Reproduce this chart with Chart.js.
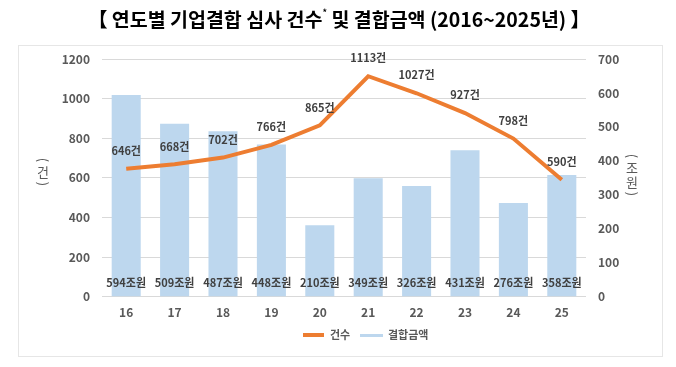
<!DOCTYPE html>
<html><head><meta charset="utf-8">
<script src="https://cdn.jsdelivr.net/npm/chart.js@4"></script>
<style>html,body{margin:0;padding:0;background:#fff}#wrap{position:relative;width:676px;height:367px}</style>
</head><body><div id="wrap"><canvas id="c" width="676" height="367"></canvas></div>
<script>
const categories = ['16','17','18','19','20','21','22','23','24','25'];
const countValues = [646, 668, 702, 766, 865, 1113, 1027, 927, 798, 590];
const amountValues = [594, 509, 487, 448, 210, 349, 326, 431, 276, 358];
const leftTicks = [0, 200, 400, 600, 800, 1000, 1200];
const rightTicks = [0, 100, 200, 300, 400, 500, 600, 700];
const seriesNames = ['건수', '결합금액'];
const titleText = '【 연도별 기업결합 심사 건수';
const titleText2 = ' 및 결합금액 (2016~2025년) 】';

const FONT = "'Noto Sans CJK KR', 'Noto Sans', sans-serif";
const GRAY = '#595959';
const DARK = '#404040';
const ORANGE = '#ED7D31';
const BLUE = '#BDD7EE';

const extras = {
  id: 'extras',
  beforeDraw(chart) {
    const ctx = chart.ctx;
    ctx.save();
    ctx.fillStyle = '#fff';
    ctx.fillRect(0, 0, chart.width, chart.height);
    ctx.strokeStyle = '#E6E6E6';
    ctx.lineWidth = 1;
    ctx.strokeRect(18.5, 45.5, 644, 311);
    ctx.restore();
  },
  afterDraw(chart) {
    const ctx = chart.ctx;
    ctx.save();
    // title
    ctx.fillStyle = '#000';
    ctx.textBaseline = 'middle';
    ctx.font = 'bold 19.5px ' + FONT;
    const w1 = ctx.measureText(titleText).width;
    const w2 = ctx.measureText(titleText2).width;
    ctx.font = 'bold 9px ' + FONT;
    const ws = ctx.measureText('*').width;
    const total = w1 + ws + w2;
    let x = 339 - total / 2;
    ctx.textAlign = 'left';
    ctx.font = 'bold 19.5px ' + FONT;
    ctx.fillText(titleText, x, 20);
    ctx.font = 'bold 9px ' + FONT;
    ctx.fillText('*', x + w1, 13);
    ctx.font = 'bold 19.5px ' + FONT;
    ctx.fillText(titleText2, x + w1 + ws, 20);

    // axis titles (stacked vertical)
    ctx.fillStyle = GRAY;
    ctx.font = '13px ' + FONT;
    ctx.textAlign = 'center';
    const stack = (cx, cy0, chars) => {
      let y = cy0;
      chars.forEach((ch, k) => {
        const paren = (ch === '(' || ch === ')');
        if (paren) {
          ctx.save();
          ctx.translate(cx, y);
          ctx.rotate(Math.PI / 2);
          ctx.fillText(ch, 0, 0);
          ctx.restore();
        } else {
          ctx.fillText(ch, cx, y);
        }
        const next = chars[k + 1];
        if (next !== undefined) {
          const np = (next === '(' || next === ')');
          y += (paren || np) ? 12 : 14;
        }
      });
    };
    stack(43, 160, ['(', '건', ')']);
    stack(632, 156, ['(', '조', '원', ')']);

    // data labels
    ctx.font = 'bold 11px ' + FONT;
    ctx.fillStyle = DARK;
    ctx.textBaseline = 'middle';
    const barMeta = chart.getDatasetMeta(1);
    barMeta.data.forEach((el, i) => {
      ctx.fillText(amountValues[i] + '조원', el.x, chart.scales.y.bottom - 14);
    });
    const lineMeta = chart.getDatasetMeta(0);
    lineMeta.data.forEach((el, i) => {
      ctx.fillText(countValues[i] + '건', el.x, el.y - 18);
    });

    // legend
    ctx.textAlign = 'left';
    ctx.font = 'bold 11px ' + FONT;
    ctx.fillStyle = ORANGE;
    ctx.fillRect(303, 333, 21, 4);
    ctx.fillStyle = GRAY;
    ctx.fillText(seriesNames[0], 330, 335);
    ctx.fillStyle = BLUE;
    ctx.fillRect(360, 334, 23, 3);
    ctx.fillStyle = GRAY;
    ctx.fillText(seriesNames[1], 388, 335);
    ctx.restore();
  }
};

new Chart(document.getElementById('c'), {
  data: {
    labels: categories,
    datasets: [
      { type: 'line', label: seriesNames[0], data: countValues, yAxisID: 'y', borderColor: ORANGE, backgroundColor: ORANGE, borderWidth: 4, pointRadius: 0, tension: 0, order: 0 },
      { type: 'bar', label: seriesNames[1], data: amountValues, yAxisID: 'y1', backgroundColor: BLUE, borderWidth: 0, barPercentage: 0.6, categoryPercentage: 1, order: 1 }
    ]
  },
  options: {
    responsive: false,
    animation: false,
    devicePixelRatio: 1,
    layout: { padding: { left: 18, right: 14, top: 59, bottom: 46 } },
    plugins: {
      title: { display: false },
      tooltip: { enabled: false },
      legend: { display: false }
    },
    scales: {
      x: {
        grid: { display: false },
        border: { display: false },
        ticks: { font: { family: FONT, size: 12, weight: 'bold' }, color: GRAY, padding: 1 }
      },
      y: {
        position: 'left',
        min: 0, max: 1200,
        afterBuildTicks(s) { s.ticks = leftTicks.map(v => ({ value: v })); },
        afterFit(s) { s.width = 84; },
        grid: { color: '#D9D9D9', drawTicks: false },
        border: { display: false },
        ticks: { font: { family: FONT, size: 12, weight: 'bold' }, color: GRAY, padding: 12, callback: v => String(v) }
      },
      y1: {
        position: 'right',
        min: 0, max: 700,
        afterBuildTicks(s) { s.ticks = rightTicks.map(v => ({ value: v })); },
        afterFit(s) { s.width = 76; },
        grid: { display: false, drawTicks: false },
        border: { display: false },
        ticks: { font: { family: FONT, size: 12, weight: 'bold' }, color: GRAY, padding: 12, callback: v => String(v) }
      }
    }
  },
  plugins: [extras]
});
</script></body></html>
